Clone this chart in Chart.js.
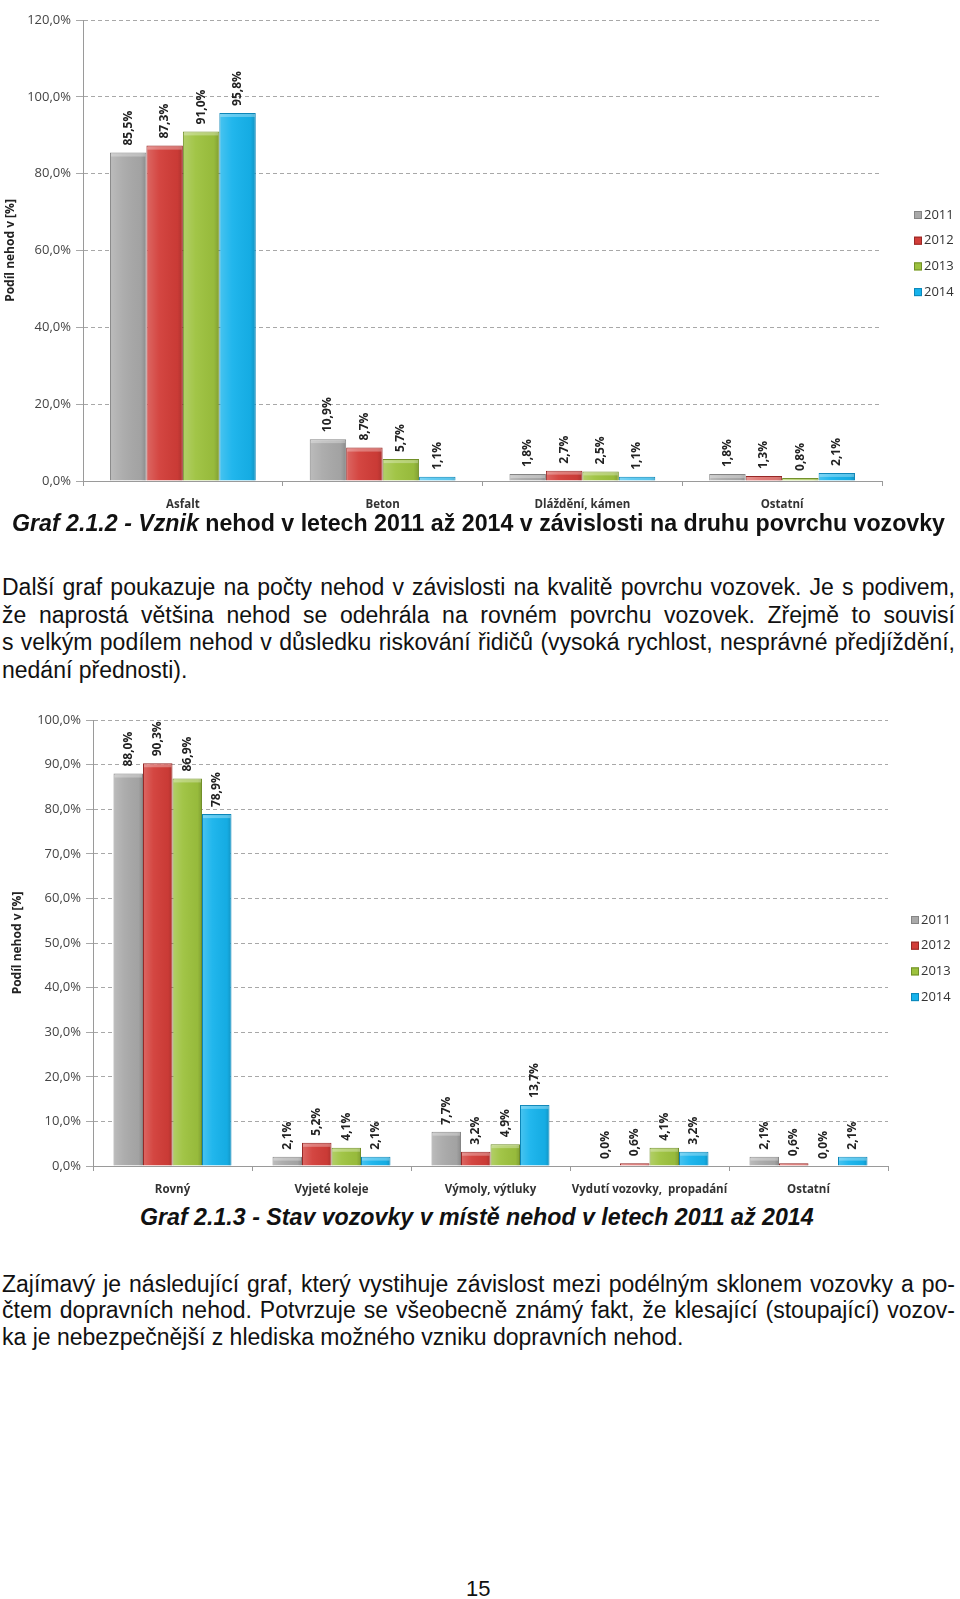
<!DOCTYPE html>
<html>
<head>
<meta charset="utf-8">
<script src="https://cdn.jsdelivr.net/npm/chart.js@4.4.0/dist/chart.umd.min.js"></script>
<style>
    body { margin: 0; background: #fff; width: 960px; height: 1599px; position: relative; overflow: hidden; }
    canvas { position: absolute; left: 0; }
    .txt { position: absolute; font-family: "Liberation Sans", Arial, sans-serif; color: #111; white-space: nowrap; }
    .line { position: absolute; left: 2px; width: 953px; font-family: "Liberation Sans", Arial, sans-serif; font-size: 23px; line-height: 26px; color: #111; text-align: justify; text-align-last: justify; white-space: nowrap; }
    .line.last { text-align-last: left; }
    .cap { position: absolute; font-family: "Liberation Sans", Arial, sans-serif; font-size: 23.2px; line-height: 26px; font-weight: bold; color: #111; white-space: nowrap; }
</style>
</head>
<body>
<canvas id="chart1" width="960" height="518" style="top:0px"></canvas>
<div class="cap" style="left:12px; top:510px;"><i>Graf 2.1.2 - Vznik</i> nehod v letech 2011 až 2014 v závislosti na druhu povrchu vozovky</div>

<div class="line" style="top:574px">Další graf poukazuje na počty nehod v závislosti na kvalitě povrchu vozovek. Je s podivem,</div>
<div class="line" style="top:602px">že naprostá většina nehod se odehrála na rovném povrchu vozovek. Zřejmě to souvisí</div>
<div class="line" style="top:629px">s velkým podílem nehod v důsledku riskování řidičů (vysoká rychlost, nesprávné předjíždění,</div>
<div class="line last" style="top:657px">nedání přednosti).</div>

<canvas id="chart2" width="960" height="500" style="top:703px"></canvas>
<div class="cap" style="left:140px; top:1204px;"><i>Graf 2.1.3 - Stav vozovky v místě nehod v letech 2011 až 2014</i></div>

<div class="line" style="top:1271px">Zajímavý je následující graf, který vystihuje závislost mezi podélným sklonem vozovky a po-</div>
<div class="line" style="top:1297px">čtem dopravních nehod. Potvrzuje se všeobecně známý fakt, že klesající (stoupající) vozov-</div>
<div class="line last" style="top:1324px">ka je nebezpečnější z hlediska možného vzniku dopravních nehod.</div>

<div class="txt" style="left:466px; top:1576px; font-size:22px;">15</div>

<script>
// data
const years = ['2011', '2012', '2013', '2014'];

const surfaceLabels = ['Asfalt', 'Beton', 'Dláždění, kámen', 'Ostatní'];
const surface2011 = [85.5, 10.9, 1.8, 1.8];
const surface2012 = [87.3, 8.7, 2.7, 1.3];
const surface2013 = [91.0, 5.7, 2.5, 0.8];
const surface2014 = [95.8, 1.1, 1.1, 2.1];

const stateLabels = ['Rovný', 'Vyjeté koleje', 'Výmoly, výtluky', 'Vydutí vozovky,  propadání', 'Ostatní'];
const state2011 = [88.0, 2.1, 7.7, 0.0, 2.1];
const state2012 = [90.3, 5.2, 3.2, 0.6, 0.6];
const state2013 = [86.9, 4.1, 4.9, 4.1, 0.0];
const state2014 = [78.9, 2.1, 13.7, 3.2, 2.1];

const fills = ['#a9a9a9', '#d23d38', '#9dc23e', '#16b3ec'];
const edges = ['#858585', '#962826', '#708f28', '#0c86b8'];

const chartFont = '"Open Sans", "DejaVu Sans", sans-serif';

function pct(v) {
    return v.toFixed(1).replace('.', ',') + '%';
}

// excel-ish bevel over the flat bars
const barShade = {
    id: 'barShade',
    afterDatasetsDraw(chart) {
        const ctx = chart.ctx;
        ctx.save();
        chart.data.datasets.forEach(function(ds, i) {
            chart.getDatasetMeta(i).data.forEach(function(bar) {
                const w = bar.width, h = bar.base - bar.y;
                if (h < 1) return;
                const left = bar.x - w / 2;
                const g = ctx.createLinearGradient(left, 0, left + w, 0);
                g.addColorStop(0, 'rgba(255,255,255,0.22)');
                g.addColorStop(0.35, 'rgba(255,255,255,0.05)');
                g.addColorStop(0.85, 'rgba(0,0,0,0.04)');
                g.addColorStop(1, 'rgba(0,0,0,0.18)');
                ctx.fillStyle = g;
                ctx.fillRect(left + 1, bar.y + 1, w - 2, h - 1);
                ctx.fillStyle = 'rgba(255,255,255,0.3)';
                ctx.fillRect(left + 1, bar.y + 1, w - 2, Math.min(3, h - 1));
            });
        });
        ctx.restore();
    }
};

// vertical value labels over each bar
const barLabels = {
    id: 'barLabels',
    afterDatasetsDraw(chart) {
        const ctx = chart.ctx;
        ctx.save();
        ctx.font = 'bold 12px ' + chartFont;
        ctx.fillStyle = '#222';
        ctx.textAlign = 'left';
        ctx.textBaseline = 'middle';
        chart.data.datasets.forEach(function(ds, i) {
            chart.getDatasetMeta(i).data.forEach(function(bar, j) {
                ctx.save();
                ctx.translate(bar.x, bar.y - 7);
                ctx.rotate(-Math.PI / 2);
                ctx.fillText(pct(ds.data[j]), 0, 0);
                ctx.restore();
            });
        });
        ctx.restore();
    }
};

// small legend on the right, like the Excel one
const sideLegend = {
    id: 'sideLegend',
    afterDraw(chart, args, opts) {
        const ctx = chart.ctx;
        ctx.save();
        ctx.font = '13px ' + chartFont;
        ctx.textBaseline = 'middle';
        chart.data.datasets.forEach(function(ds, i) {
            const y = opts.y + i * opts.step;
            ctx.fillStyle = ds.backgroundColor;
            ctx.fillRect(opts.x, y - 4, 8, 8);
            ctx.strokeStyle = ds.borderColor;
            ctx.lineWidth = 1;
            ctx.strokeRect(opts.x + 0.5, y - 3.5, 7, 7);
            ctx.fillStyle = '#333';
            ctx.fillText(ds.label, opts.x + 10, y);
        });
        ctx.restore();
    }
};

function makeChart(id, labels, series, cfg) {
    const datasets = series.map(function(values, i) {
        return {
            label: years[i],
            data: values,
            backgroundColor: fills[i],
            borderColor: edges[i],
            borderWidth: 1,
            barPercentage: 1.0,
            categoryPercentage: cfg.catPct
        };
    });

    return new Chart(document.getElementById(id), {
        type: 'bar',
        data: { labels: labels, datasets: datasets },
        options: {
            responsive: false,
            animation: false,
            layout: { padding: { left: cfg.padLeft, right: cfg.padRight, top: cfg.padTop, bottom: 0 } },
            plugins: {
                legend: { display: false },
                tooltip: { enabled: false },
                sideLegend: { x: cfg.legendX, y: cfg.legendY, step: cfg.legendStep }
            },
            scales: {
                x: {
                    grid: { display: true, drawOnChartArea: false, drawTicks: true, tickLength: 5, color: '#9a9a9a', offset: true },
                    border: { display: true, color: '#9a9a9a' },
                    ticks: { color: '#333', font: { family: chartFont, size: 11.5, weight: 'bold' }, padding: 12, maxRotation: 0, autoSkip: false },
                    afterFit: function(scale) { scale.height = cfg.xHeight; }
                },
                y: {
                    min: 0,
                    max: cfg.max,
                    ticks: { stepSize: cfg.step, color: '#444', font: { family: chartFont, size: 13 }, padding: 5, callback: function(v) { return pct(v); } },
                    grid: { color: '#a8a8a8', tickLength: 7, tickColor: '#a8a8a8' },
                    border: { display: true, color: '#9a9a9a', dash: [4, 3] },
                    title: { display: true, text: 'Podíl nehod v [%]', color: '#222', font: { family: chartFont, size: 12, weight: 'bold' }, padding: { top: 3, bottom: 0 } },
                    afterFit: function(scale) { scale.width = cfg.yWidth; }
                }
            }
        },
        plugins: [barShade, barLabels, sideLegend]
    });
}

const chart1 = makeChart('chart1', surfaceLabels, [surface2011, surface2012, surface2013, surface2014], {
    catPct: 0.73, max: 120, step: 20,
    padLeft: 0, padRight: 78, padTop: 20,
    yWidth: 83, xHeight: 37,
    legendX: 914, legendY: 215, legendStep: 25.7
});

const chart2 = makeChart('chart2', stateLabels, [state2011, state2012, state2013, state2014], {
    catPct: 0.742, max: 100, step: 10,
    padLeft: 7, padRight: 72, padTop: 17,
    yWidth: 86, xHeight: 37,
    legendX: 911, legendY: 217, legendStep: 25.7
});
</script>
</body>
</html>
